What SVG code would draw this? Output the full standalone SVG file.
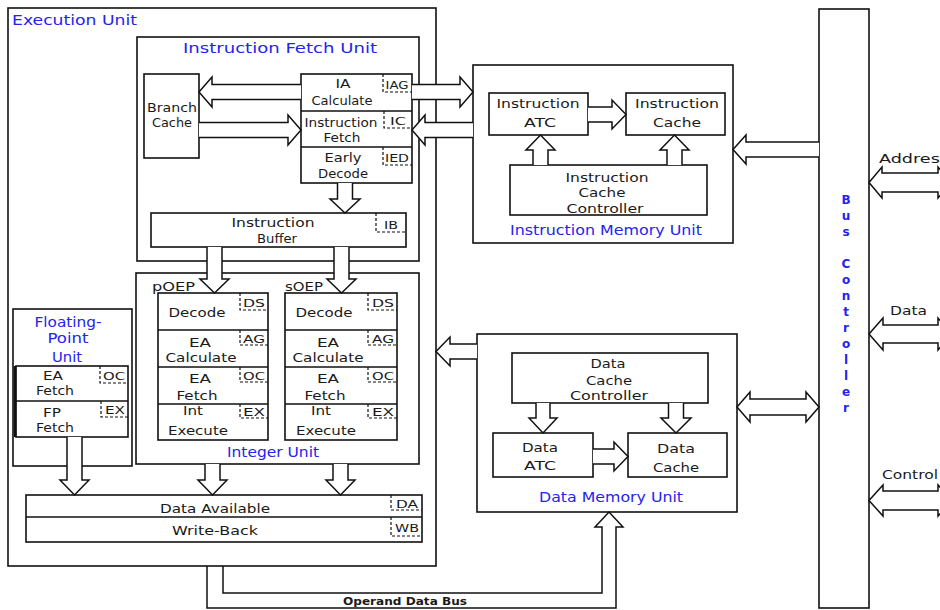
<svg xmlns="http://www.w3.org/2000/svg" width="940" height="610" viewBox="0 0 940 610">
<style>
rect.box{fill:#fff;stroke:#111;stroke-width:1.6}
rect.nf{fill:none;stroke:#111;stroke-width:1.6}
line.div{stroke:#111;stroke-width:1.6}
path.tag{fill:none;stroke:#111;stroke-width:1.2;stroke-dasharray:3 2}
path.arr{fill:#fff;stroke:#111;stroke-width:1.5;stroke-linejoin:miter}
path.bus{fill:none;stroke:#111;stroke-width:1.5}
text{font-family:"DejaVu Sans","Liberation Sans",sans-serif}
.t{font-size:13px;fill:#1a1a1a;text-anchor:middle}
.tl{font-size:13px;fill:#1a1a1a}
.tg{font-size:11px;fill:#1a1a1a;text-anchor:middle}
.bl{font-size:14px;fill:#2424ee}
.bc{font-size:14px;fill:#2424ee;text-anchor:middle}
.vb{font-size:12px;fill:#2424ee;text-anchor:middle;font-weight:bold}
.ob{font-size:11px;fill:#1a1a1a;text-anchor:middle;font-weight:bold}
</style>
<rect width="940" height="610" fill="#fff"/>

<g id="execution-unit">
<rect class="nf" x="8" y="8" width="428" height="558"/>
<text class="bl" x="12" y="25" textLength="125" lengthAdjust="spacingAndGlyphs">Execution Unit</text>
</g>

<g id="instruction-fetch-unit">
<rect class="nf" x="137" y="37" width="282" height="224"/>
<text class="bc" x="280" y="53" textLength="194" lengthAdjust="spacingAndGlyphs">Instruction Fetch Unit</text>
</g>

<g id="branch-cache">
<rect class="box" x="144" y="74" width="55" height="84"/>
<text class="t" x="172" y="112" textLength="50" lengthAdjust="spacingAndGlyphs">Branch</text>
<text class="t" x="172" y="127" textLength="40" lengthAdjust="spacingAndGlyphs">Cache</text>
</g>

<g id="fetch-stages">
<rect class="box" x="301" y="74" width="111" height="109"/>
<line class="div" x1="301" y1="111" x2="412" y2="111"/>
<line class="div" x1="301" y1="147" x2="412" y2="147"/>
<text class="t" x="343" y="88" textLength="15" lengthAdjust="spacingAndGlyphs">IA</text>
<text class="t" x="342" y="105" textLength="61" lengthAdjust="spacingAndGlyphs">Calculate</text>
<text class="t" x="341" y="127" textLength="73" lengthAdjust="spacingAndGlyphs">Instruction</text>
<text class="t" x="342" y="142" textLength="37" lengthAdjust="spacingAndGlyphs">Fetch</text>
<text class="t" x="343" y="162" textLength="37" lengthAdjust="spacingAndGlyphs">Early</text>
<text class="t" x="343" y="178" textLength="50" lengthAdjust="spacingAndGlyphs">Decode</text>
<path class="tag" d="M383,74 V92 H412"/>
<text class="tg" x="397" y="89" textLength="23" lengthAdjust="spacingAndGlyphs">IAG</text>
<path class="tag" d="M384,111 V128 H412"/>
<text class="tg" x="398" y="125" textLength="16" lengthAdjust="spacingAndGlyphs">IC</text>
<path class="tag" d="M383,147 V165 H412"/>
<text class="tg" x="397" y="162" textLength="24" lengthAdjust="spacingAndGlyphs">IED</text>
</g>

<g id="instruction-buffer">
<rect class="box" x="151" y="213" width="255" height="34"/>
<text class="t" x="273" y="227" textLength="83" lengthAdjust="spacingAndGlyphs">Instruction</text>
<text class="t" x="277" y="243" textLength="40" lengthAdjust="spacingAndGlyphs">Buffer</text>
<path class="tag" d="M376,213 V232 H406"/>
<text class="tg" x="391" y="229" textLength="14" lengthAdjust="spacingAndGlyphs">IB</text>
</g>

<g id="instruction-memory-unit">
<rect class="nf" x="473" y="65" width="260" height="178"/>
<text class="bc" x="606" y="235" textLength="192" lengthAdjust="spacingAndGlyphs">Instruction Memory Unit</text>
</g>

<g id="instruction-atc">
<rect class="box" x="489" y="93" width="99" height="42"/>
<text class="t" x="538" y="108" textLength="83" lengthAdjust="spacingAndGlyphs">Instruction</text>
<text class="t" x="540" y="127" textLength="32" lengthAdjust="spacingAndGlyphs">ATC</text>
</g>

<g id="instruction-cache">
<rect class="box" x="626" y="93" width="99" height="42"/>
<text class="t" x="677" y="108" textLength="84" lengthAdjust="spacingAndGlyphs">Instruction</text>
<text class="t" x="677" y="127" textLength="48" lengthAdjust="spacingAndGlyphs">Cache</text>
</g>

<g id="instruction-cache-controller">
<rect class="box" x="510" y="165" width="197" height="50"/>
<text class="t" x="607" y="182" textLength="83" lengthAdjust="spacingAndGlyphs">Instruction</text>
<text class="t" x="602" y="197" textLength="47" lengthAdjust="spacingAndGlyphs">Cache</text>
<text class="t" x="605" y="213" textLength="77" lengthAdjust="spacingAndGlyphs">Controller</text>
</g>

<g id="integer-unit">
<rect class="nf" x="136" y="273" width="283" height="191"/>
<text class="bc" x="273" y="457" textLength="92" lengthAdjust="spacingAndGlyphs">Integer Unit</text>
</g>

<g id="poep">
<text class="tl" x="152" y="291" textLength="43" lengthAdjust="spacingAndGlyphs">pOEP</text>
<rect class="box" x="158" y="293" width="110" height="147"/>
<line class="div" x1="158" y1="330" x2="268" y2="330"/>
<line class="div" x1="158" y1="367" x2="268" y2="367"/>
<line class="div" x1="158" y1="404" x2="268" y2="404"/>
<text class="t" x="197" y="317" textLength="57" lengthAdjust="spacingAndGlyphs">Decode</text>
<text class="t" x="200" y="347" textLength="22" lengthAdjust="spacingAndGlyphs">EA</text>
<text class="t" x="201" y="362" textLength="71" lengthAdjust="spacingAndGlyphs">Calculate</text>
<text class="t" x="200" y="383" textLength="22" lengthAdjust="spacingAndGlyphs">EA</text>
<text class="t" x="197" y="400" textLength="41" lengthAdjust="spacingAndGlyphs">Fetch</text>
<text class="t" x="193" y="415" textLength="20" lengthAdjust="spacingAndGlyphs">Int</text>
<text class="t" x="198" y="435" textLength="60" lengthAdjust="spacingAndGlyphs">Execute</text>
<path class="tag" d="M240,293 V310 H268"/>
<text class="tg" x="254" y="307" textLength="22" lengthAdjust="spacingAndGlyphs">DS</text>
<path class="tag" d="M240,330 V345 H268"/>
<text class="tg" x="254" y="343" textLength="22" lengthAdjust="spacingAndGlyphs">AG</text>
<path class="tag" d="M240,367 V382 H268"/>
<text class="tg" x="254" y="380" textLength="22" lengthAdjust="spacingAndGlyphs">OC</text>
<path class="tag" d="M240,404 V418 H268"/>
<text class="tg" x="254" y="416" textLength="22" lengthAdjust="spacingAndGlyphs">EX</text>
</g>

<g id="soep">
<text class="tl" x="285" y="291" textLength="38" lengthAdjust="spacingAndGlyphs">sOEP</text>
<rect class="box" x="285" y="293" width="112" height="147"/>
<line class="div" x1="285" y1="330" x2="397" y2="330"/>
<line class="div" x1="285" y1="367" x2="397" y2="367"/>
<line class="div" x1="285" y1="404" x2="397" y2="404"/>
<text class="t" x="324" y="317" textLength="57" lengthAdjust="spacingAndGlyphs">Decode</text>
<text class="t" x="328" y="347" textLength="22" lengthAdjust="spacingAndGlyphs">EA</text>
<text class="t" x="328" y="362" textLength="71" lengthAdjust="spacingAndGlyphs">Calculate</text>
<text class="t" x="328" y="383" textLength="22" lengthAdjust="spacingAndGlyphs">EA</text>
<text class="t" x="325" y="400" textLength="41" lengthAdjust="spacingAndGlyphs">Fetch</text>
<text class="t" x="321" y="415" textLength="20" lengthAdjust="spacingAndGlyphs">Int</text>
<text class="t" x="326" y="435" textLength="60" lengthAdjust="spacingAndGlyphs">Execute</text>
<path class="tag" d="M368,293 V310 H397"/>
<text class="tg" x="383" y="307" textLength="22" lengthAdjust="spacingAndGlyphs">DS</text>
<path class="tag" d="M368,330 V345 H397"/>
<text class="tg" x="383" y="343" textLength="22" lengthAdjust="spacingAndGlyphs">AG</text>
<path class="tag" d="M368,367 V382 H397"/>
<text class="tg" x="383" y="380" textLength="22" lengthAdjust="spacingAndGlyphs">OC</text>
<path class="tag" d="M368,404 V418 H397"/>
<text class="tg" x="383" y="416" textLength="22" lengthAdjust="spacingAndGlyphs">EX</text>
</g>

<g id="floating-point-unit">
<rect class="nf" x="13" y="309" width="119" height="157"/>
<text class="bc" x="68" y="327" textLength="67" lengthAdjust="spacingAndGlyphs">Floating-</text>
<text class="bc" x="68" y="343" textLength="41" lengthAdjust="spacingAndGlyphs">Point</text>
<text class="bc" x="67" y="362" textLength="30" lengthAdjust="spacingAndGlyphs">Unit</text>
<rect class="box" x="16" y="366" width="112" height="71"/>
<line class="div" x1="16" y1="401" x2="128" y2="401"/>
<line class="div" x1="15" y1="366" x2="15" y2="437" style="stroke-width:2.5"/>
<text class="t" x="53" y="380" textLength="20" lengthAdjust="spacingAndGlyphs">EA</text>
<text class="t" x="55" y="395" textLength="38" lengthAdjust="spacingAndGlyphs">Fetch</text>
<text class="t" x="52" y="417" textLength="18" lengthAdjust="spacingAndGlyphs">FP</text>
<text class="t" x="55" y="432" textLength="38" lengthAdjust="spacingAndGlyphs">Fetch</text>
<path class="tag" d="M100,366 V383 H128"/>
<text class="tg" x="114" y="380" textLength="22" lengthAdjust="spacingAndGlyphs">OC</text>
<path class="tag" d="M101,401 V417 H128"/>
<text class="tg" x="115" y="414" textLength="20" lengthAdjust="spacingAndGlyphs">EX</text>
</g>

<g id="data-available-write-back">
<rect class="box" x="26" y="495" width="396" height="47"/>
<line class="div" x1="26" y1="517" x2="422" y2="517"/>
<text class="t" x="215" y="513" textLength="110" lengthAdjust="spacingAndGlyphs">Data Available</text>
<text class="t" x="215" y="535" textLength="86" lengthAdjust="spacingAndGlyphs">Write-Back</text>
<path class="tag" d="M391,495 V510 H422"/>
<text class="tg" x="407" y="508" textLength="22" lengthAdjust="spacingAndGlyphs">DA</text>
<path class="tag" d="M391,517 V536 H422"/>
<text class="tg" x="407" y="532" textLength="24" lengthAdjust="spacingAndGlyphs">WB</text>
</g>

<g id="data-memory-unit">
<rect class="nf" x="477" y="334" width="260" height="178"/>
<text class="bc" x="611" y="502" textLength="144" lengthAdjust="spacingAndGlyphs">Data Memory Unit</text>
</g>

<g id="data-cache-controller">
<rect class="box" x="512" y="353" width="196" height="50"/>
<text class="t" x="608" y="368" textLength="35" lengthAdjust="spacingAndGlyphs">Data</text>
<text class="t" x="609" y="385" textLength="46" lengthAdjust="spacingAndGlyphs">Cache</text>
<text class="t" x="609" y="400" textLength="78" lengthAdjust="spacingAndGlyphs">Controller</text>
</g>

<g id="data-atc">
<rect class="box" x="493" y="433" width="100" height="44"/>
<text class="t" x="540" y="452" textLength="36" lengthAdjust="spacingAndGlyphs">Data</text>
<text class="t" x="540" y="470" textLength="32" lengthAdjust="spacingAndGlyphs">ATC</text>
</g>

<g id="data-cache">
<rect class="box" x="628" y="433" width="99" height="44"/>
<text class="t" x="676" y="453" textLength="38" lengthAdjust="spacingAndGlyphs">Data</text>
<text class="t" x="676" y="472" textLength="46" lengthAdjust="spacingAndGlyphs">Cache</text>
</g>

<g id="bus-controller">
<rect class="nf" x="819" y="9" width="50" height="599"/>
<text class="vb"><tspan x="846" y="204">B</tspan><tspan x="846" y="220">u</tspan><tspan x="846" y="236">s</tspan><tspan x="846" y="268">C</tspan><tspan x="846" y="284">o</tspan><tspan x="846" y="300">n</tspan><tspan x="846" y="316">t</tspan><tspan x="846" y="332">r</tspan><tspan x="846" y="348">o</tspan><tspan x="846" y="364">l</tspan><tspan x="846" y="380">l</tspan><tspan x="846" y="396">e</tspan><tspan x="846" y="412">r</tspan></text>
</g>

<g id="connectors">
<path class="arr" d="M301,84.5 H212 V77 L199,92 L212,107 V99.5 H301"/>
<path class="arr" d="M199,122.5 H288 V115 L301,130 L288,145 V137.5 H199"/>
<path class="arr" d="M412,84.5 H460 V77 L473,92 L460,107 V99.5 H412"/>
<path class="arr" d="M473,122.5 H425 V115 L412,130 L425,145 V137.5 H473"/>
<path class="arr" d="M337.5,183 V199 H330 L345,213 L360,199 H352.5 V183"/>
<path class="arr" d="M207,247 V279 H200 L214.5,293 L229,279 H222 V247"/>
<path class="arr" d="M334,247 V279 H327 L341.5,293 L356,279 H349 V247"/>
<path class="arr" d="M588,107 H612 V100 L626,114.5 L612,129 V122 H588"/>
<path class="arr" d="M533,165 V150 H526 L540.5,135 L555,150 H548 V165"/>
<path class="arr" d="M667,165 V150 H660 L674.5,135 L689,150 H682 V165"/>
<path class="arr" d="M819,142 H746 V135 L733,149.5 L746,164 V157 H819"/>
<path class="arr" d="M477,344 H450 V337 L436,351.5 L450,366 V359 H477"/>
<path class="arr" d="M737,407 L750,392 V399 H806 V392 L819,407 L806,422 V415 H750 V422 Z"/>
<path class="arr" d="M536,403 V418 H529 L543,433 L557,418 H550 V403"/>
<path class="arr" d="M668.5,403 V418 H661 L676,433 L691,418 H683.5 V403"/>
<path class="arr" d="M593,449 H614 V442 L628,456.5 L614,471 V464 H593"/>
<path class="arr" d="M67,437 V480 H60 L74.5,495 L89,480 H82 V437"/>
<path class="arr" d="M205,464 V480 H198 L212.5,495 L227,480 H220 V464"/>
<path class="arr" d="M333,464 V480 H326 L340.5,495 L355,480 H348 V464"/>
<path class="bus" d="M207,566 V608 H616 V527 H623 L609,512 L595,527 H602 V593 H223 V566"/>
<path class="arr" d="M869,182.5 L882,167 V173 H938 V167 L951,182.5 L938,198 V192 H882 V198 Z"/>
<path class="arr" d="M869,334 L883,318 V325 H938 V318 L952,334 L938,350 V343 H883 V350 Z"/>
<path class="arr" d="M869,500.5 L883,485 V491 H938 V485 L952,500.5 L938,516 V510 H883 V516 Z"/>
</g>

<g id="labels">
<text class="ob" x="405" y="605" textLength="124" lengthAdjust="spacingAndGlyphs">Operand Data Bus</text>
<text class="tl" x="879" y="163" textLength="70" lengthAdjust="spacingAndGlyphs">Address</text>
<text class="tl" x="890" y="315" textLength="37" lengthAdjust="spacingAndGlyphs">Data</text>
<text class="tl" x="882" y="479" textLength="56" lengthAdjust="spacingAndGlyphs">Control</text>
</g>
</svg>
